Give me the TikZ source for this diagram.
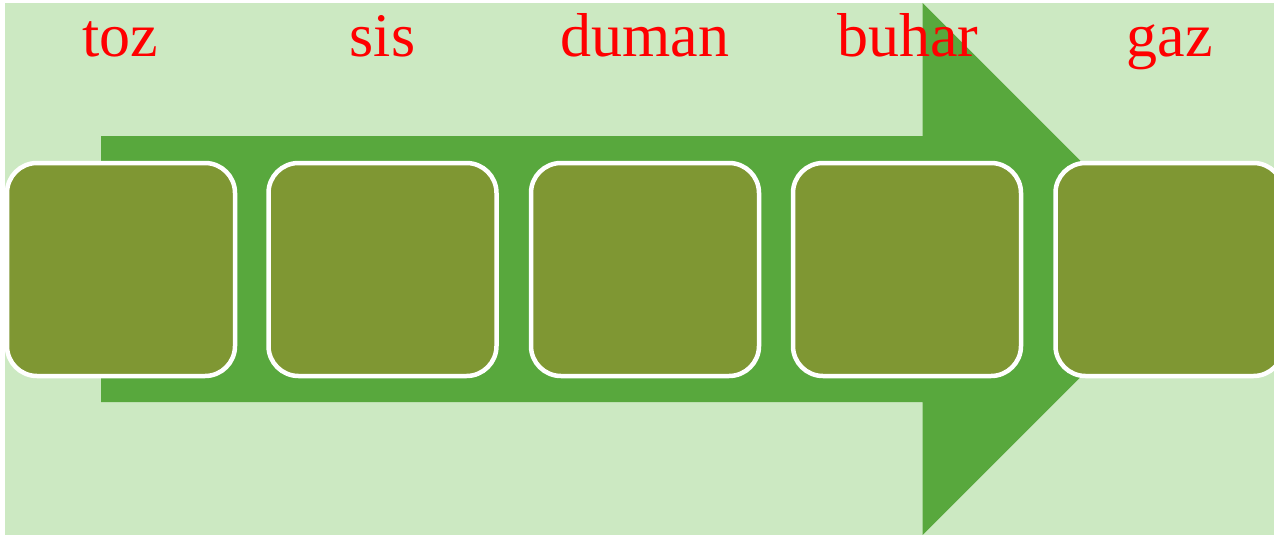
\documentclass[tikz,border=0pt]{standalone}
\usepackage{fontspec}
\setmainfont{Liberation Serif}
\definecolor{bglight}{RGB}{204,233,194}
\definecolor{arrowgreen}{RGB}{88,168,61}
\definecolor{boxolive}{RGB}{127,151,51}
\tikzset{
  stagebox/.style={draw=white, line width=4.5pt, fill=boxolive, rounded corners=30pt,
    minimum width=228pt, minimum height=213pt, inner sep=0pt},
  stagelabel/.style={text=red, font=\fontsize{62}{70}\selectfont, anchor=base, inner sep=0pt}
}
\begin{document}
\begin{tikzpicture}[x=1pt,y=-1pt]
\useasboundingbox (0,0) rectangle (1274,535);
\clip (0,0) rectangle (1274,535);
\fill[bglight] (5,3) rectangle (1274,535);
% big arrow
\fill[arrowgreen] (101,136) -- (922.5,136) -- (922.5,3) -- (1188.5,269) -- (922.5,535) -- (922.5,402) -- (101,402) -- cycle;
% boxes
\node[stagebox] (b1) at (121,269.5) {};
\node[stagebox] (b2) at (382.5,269.5) {};
\node[stagebox] (b3) at (645,269.5) {};
\node[stagebox] (b4) at (907,269.5) {};
\node[stagebox] (b5) at (1169.5,269.5) {};
% labels
\node[stagelabel] (t1) at (120,56.5) {toz};
\node[stagelabel] (t2) at (382.5,56.5) {sis};
\node[stagelabel] (t3) at (645,56.5) {duman};
\node[stagelabel] (t4) at (908,56.5) {buhar};
\node[stagelabel] (t5) at (1170,56.5) {gaz};
\end{tikzpicture}
\end{document}
